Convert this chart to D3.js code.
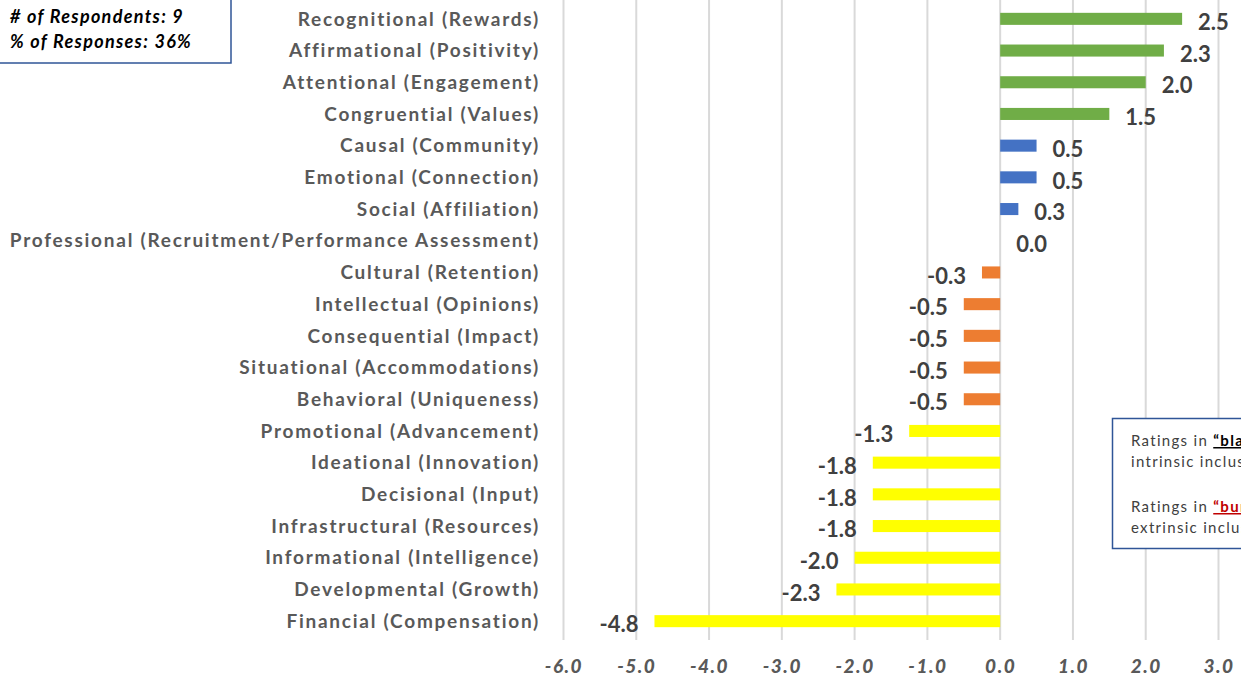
<!DOCTYPE html>
<html><head><meta charset="utf-8">
<script src="https://cdn.jsdelivr.net/npm/d3@7"></script>
<style>
html,body{margin:0;padding:0;background:#fff;overflow:hidden;}
svg{display:block;}
</style></head>
<body>
<svg id="chart" width="1241" height="679"></svg>
<script>
const categories = [
  "Recognitional (Rewards)","Affirmational (Positivity)","Attentional (Engagement)","Congruential (Values)",
  "Causal (Community)","Emotional (Connection)","Social (Affiliation)","Professional (Recruitment/Performance Assessment)",
  "Cultural (Retention)","Intellectual (Opinions)","Consequential (Impact)","Situational (Accommodations)",
  "Behavioral (Uniqueness)","Promotional (Advancement)","Ideational (Innovation)","Decisional (Input)",
  "Infrastructural (Resources)","Informational (Intelligence)","Developmental (Growth)","Financial (Compensation)"
];
const values = [2.5,2.25,2.0,1.5,0.5,0.5,0.25,0.0,-0.25,-0.5,-0.5,-0.5,-0.5,-1.25,-1.75,-1.75,-1.75,-2.0,-2.25,-4.75];
const groups = ["high","high","high","high","mid","mid","mid","mid","low","low","low","low","low","lowest","lowest","lowest","lowest","lowest","lowest","lowest"];
const groupNames = ["high","mid","low","lowest"];
const groupColors = ["#70ad47","#4472c4","#ed7d31","#ffff00"];
const tickValues = [-6,-5,-4,-3,-2,-1,0,1,2,3];
const infoLines = ["# of Respondents: 9","% of Responses: 36%"];

const svg = d3.select("#chart");
const x = d3.scaleLinear().domain([-6,3]).range([563.5,1218.5]);
const y = d3.scaleBand().domain(categories).range([3,637]).paddingInner(0.62).paddingOuter(0.31);
const color = d3.scaleOrdinal().domain(groupNames).range(groupColors);
const font = "Lato, Calibri, 'Open Sans', sans-serif";

// gridlines
svg.append("g").selectAll("line").data(d3.range(-6,3.6,1)).join("line")
  .attr("x1",d=>x(d)).attr("x2",d=>x(d)).attr("y1",0).attr("y2",640)
  .attr("stroke","#d9d9d9").attr("stroke-width",2);

// bars
svg.append("g").selectAll("rect").data(values).join("rect")
  .attr("x",d=>x(Math.min(0,d))).attr("width",d=>Math.abs(x(d)-x(0)))
  .attr("y",(d,i)=>y(categories[i])).attr("height",y.bandwidth())
  .attr("fill",(d,i)=>color(groups[i]));

// value labels
svg.append("g").selectAll("text").data(values).join("text")
  .attr("x",d=> d<0 ? x(d)-16 : x(d)+16)
  .attr("y",(d,i)=>y(categories[i])+y.bandwidth()/2+3.5)
  .attr("dy","0.35em")
  .attr("text-anchor",d=>d<0?"end":"start")
  .attr("font-family",font).attr("font-weight","bold").attr("font-size",22)
  .attr("fill","#404040")
  .text(d=>d.toFixed(1));

// category axis
const yAxis = svg.append("g").attr("transform","translate(550,0)")
  .call(d3.axisLeft(y).tickSize(0).tickPadding(10));
yAxis.select(".domain").remove();
yAxis.selectAll("text").attr("font-family",font).attr("font-weight","bold")
  .attr("font-size",19).attr("letter-spacing","1.75px")
  .attr("fill","#595959").attr("dy","0.35em");

// x axis
const xAxis = svg.append("g").attr("transform","translate(0,659)")
  .call(d3.axisBottom(x).tickValues(tickValues).tickSize(0).tickFormat(d3.format(".1f")).tickPadding(0));
xAxis.select(".domain").remove();
xAxis.selectAll("text").attr("font-family",font).attr("font-weight","900").attr("font-style","italic")
  .attr("font-size",19).attr("letter-spacing","1.5px")
  .attr("fill","#595959").attr("dy","0.71em")
  .text(d=>d.toFixed(1));

// top-left info box
svg.append("rect").attr("x",-2).attr("y",-2).attr("width",233).attr("height",65)
  .attr("fill","#fff").attr("stroke","#2f5597").attr("stroke-width",1.5);
svg.append("g").selectAll("text").data(infoLines).join("text")
  .attr("x",10).attr("y",(d,i)=>23+i*25)
  .attr("font-family",font).attr("font-weight","bold").attr("font-style","italic")
  .attr("font-size",18).attr("letter-spacing","1.3px")
  .attr("fill","#000").text(d=>d);

// right note box
svg.append("rect").attr("x",1112.5).attr("y",418.5).attr("width",140).attr("height",130)
  .attr("fill","#fff").attr("stroke","#2f5597").attr("stroke-width",1.5);
const nf = "Lato, Calibri, 'Open Sans', sans-serif";
const note = svg.append("g").attr("font-family",nf).attr("font-size",15)
  .attr("letter-spacing","1.3px").attr("fill","#404040");
const t1 = note.append("text").attr("x",1131).attr("y",446);
t1.append("tspan").text("Ratings in ");
t1.append("tspan").attr("font-weight","bold").attr("fill","#000").attr("text-decoration","underline").text("“black”");
t1.append("tspan").text(" indicate");
note.append("text").attr("x",1131).attr("y",467).text("intrinsic inclusion");
const t2 = note.append("text").attr("x",1131).attr("y",512);
t2.append("tspan").text("Ratings in ");
t2.append("tspan").attr("font-weight","bold").attr("fill","#c00000").attr("text-decoration","underline").text("“burgundy”");
t2.append("tspan").text(" indicate");
note.append("text").attr("x",1131).attr("y",533).text("extrinsic inclusion");
</script>
</body></html>
